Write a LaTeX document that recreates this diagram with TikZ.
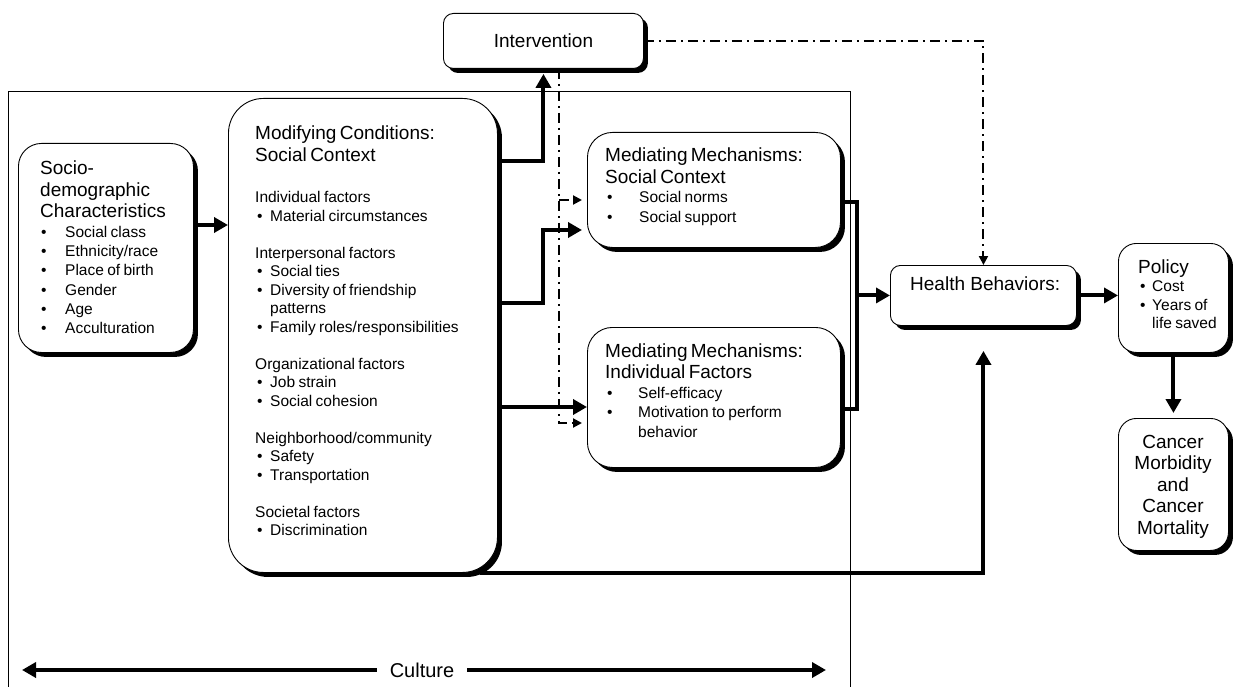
\documentclass[tikz,border=0pt]{standalone}
\usepackage{fontspec}
\setmainfont{Liberation Sans}
\usetikzlibrary{arrows.meta,shadows,positioning,calc}

\newcommand\headfont{\fontsize{19}{21.5}\selectfont}
\newcommand\itemfont[1][18.5]{\fontsize{15.5}{#1}\selectfont}
\newlength\bulw
\newlength\bulx
\newcommand\bul[1]{\par\makebox[\bulw][l]{\hspace*{\bulx}\textbullet}#1}
\newcommand\cont[1]{\par\hspace*{\bulw}#1}
\newcommand\blank{\par\vspace{18.5pt}}

\begin{document}
\begin{tikzpicture}[
                    x=1pt, y=-1pt,
                    box/.style={draw, line width=0.9pt, fill=white, rounded corners=#1,
                        anchor=north west,
                        drop shadow={shadow xshift=4.5pt, shadow yshift=-4.5pt, fill=black, opacity=1}},
                    box/.default=22pt,
                    txt/.style={inner sep=0pt, align=left, anchor=base west},
                    thickarrow/.style={line width=4pt, -{Triangle[length=14pt,width=15pt]}},
                    dashdot/.style={line width=2pt, dash pattern=on 10pt off 5pt on 2pt off 5pt},
                    dashtip/.style={dashdot, -{Triangle[length=9pt,width=9pt]}}
                ]
                \useasboundingbox (0,0) rectangle (1234,687);
                \draw[line width=1pt] (8,687) -- (8,92) -- (850,92) -- (850,687);

                \node[box=23pt, minimum width=175pt, minimum height=209pt] (socio) at (18,143) {};
                \node[box=35pt, minimum width=269pt, minimum height=474pt] (mod) at (228,98) {};
                \node[box=10pt, minimum width=200pt, minimum height=55pt, font=\headfont] (int) at (443,13) {Intervention};
                \node[box=25pt, minimum width=253pt, minimum height=115pt] (medsc) at (587,132) {};
                \node[box=25pt, minimum width=253pt, minimum height=140pt] (medif) at (587,327) {};
                \node[box=10pt, minimum width=186pt, minimum height=60pt] (hb) at (890,265) {};
                \node[box=18pt, minimum width=110pt, minimum height=109pt] (pol) at (1118,243) {};
                \node[box=18pt, minimum width=110pt, minimum height=132pt] (can) at (1118,418) {};

                \node[txt, text width=150pt] (sociotxt) at (40,175) {{\headfont Socio-\par demographic\par Characteristics\par}\itemfont[19.3]\setlength\bulw{25pt}\setlength\bulx{1pt}%
                    \bul{Social class}\bul{Ethnicity/race}\bul{Place of birth}\bul{Gender}\bul{Age}\bul{Acculturation}\par};
                \node[txt, text width=240pt] (modtxt) at (255,140) {{\headfont Modifying Conditions:\par Social Context\par}\itemfont\setlength\bulw{15pt}\setlength\bulx{2pt}%
                    \vspace{23pt}Individual factors
                    \bul{Material circumstances}
                    \blank Interpersonal factors
                    \bul{Social ties}
                    \bul{Diversity of friendship}
                    \cont{patterns}
                    \bul{Family roles/responsibilities}
                    \blank Organizational factors
                    \bul{Job strain}
                    \bul{Social cohesion}
                    \blank Neighborhood/community
                    \bul{Safety}
                    \bul{Transportation}
                    \blank Societal factors
                    \bul{Discrimination}\par};
                \node[txt, text width=230pt] (medsctxt) at (605,162) {{\headfont Mediating Mechanisms:\par Social Context\par}\itemfont[19.5]\setlength\bulw{34pt}\setlength\bulx{2pt}%
                    \bul{Social norms}\bul{Social support}\par};
                \node[txt, text width=230pt] (mediftxt) at (605,357) {{\headfont Mediating Mechanisms:\par Individual Factors\par}\itemfont[19.5]\setlength\bulw{33pt}\setlength\bulx{2pt}%
                    \bul{Self-efficacy}\bul{Motivation to perform}\cont{behavior}\par};
                \node[txt, font=\headfont] (hbtxt) at (910,290) {Health Behaviors:};
                \node[txt, text width=95pt] (poltxt) at (1138,273) {{\headfont Policy\par}\itemfont\setlength\bulw{14pt}\setlength\bulx{2pt}%
                    \bul{Cost}\bul{Years of}\cont{life saved}\par};
                \node[inner sep=0pt, text width=110pt, align=center, anchor=base, font=\headfont] (cantxt) at (1173,448) {Cancer\par Morbidity\par and\par Cancer\par Mortality\par};
                \node[font=\fontsize{20}{24}\selectfont, inner xsep=13pt, inner ysep=0pt] (cult) at (422,670) {Culture};

                \coordinate (ddtop) at (559,200);
                \coordinate (ddbot) at (559,423);
                \coordinate (brtop) at (857,202);
                \coordinate (brbot) at (857,409);
                \coordinate (hbgap) at ($(hb.south)+(0,25)$);
                \coordinate (cleft) at (22,670);
                \coordinate (cright) at (826,670);

                \draw[thickarrow] (socio.east |- 0,225) -- (mod.west |- 0,225);
                \draw[thickarrow, shorten >=5pt] (mod.east |- 0,161) -| (int.south);
                \draw[thickarrow, shorten >=5pt] (mod.east |- 0,303) -| (int.south |- 0,230) -- (medsc.west |- 0,230);
                \draw[thickarrow] (mod.east |- 0,407) -- (medif.west |- 0,407);
                \draw[thickarrow] ($(mod.south east)+(-18,0)$) -| (hbgap);
                \draw[dashtip, shorten >=5pt] (int.south -| ddtop) -- (ddbot) -- (medif.west |- ddbot);
                \draw[dashtip, shorten >=5pt] (ddtop) -- (medsc.west |- ddtop);
                \draw[dashtip] (int.east) -| (hb.north);
                \draw[line width=4pt] (medsc.east |- brtop) -- (brtop) -- (brbot) -- (medif.east |- brbot);
                \draw[thickarrow] (brtop |- hb.west) -- (hb.west);
                \draw[thickarrow] (hb.east) -- (hb.east -| pol.west);
                \draw[thickarrow, shorten >=5pt] (pol.south) -- (can.north);
                \draw[thickarrow] (cult.west) -- (cleft);
                \draw[thickarrow] (cult.east) -- (cright);
            \end{tikzpicture}
\end{document}
